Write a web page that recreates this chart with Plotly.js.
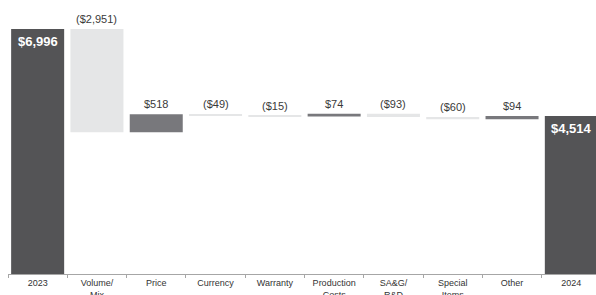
<!DOCTYPE html>
<html>
<head>
<meta charset="utf-8">
<script src="https://cdn.plot.ly/plotly-3.0.1.min.js"></script>
<style>html,body{margin:0;padding:0;background:#fff;}#chart{width:596px;height:295px;}</style>
</head>
<body>
<div id="chart"></div>
<script>
var categories = ["2023", "Volume/<br>Mix", "Price", "Currency", "Warranty", "Production<br>Costs", "SA&G/<br>R&D", "Special<br>Items", "Other", "2024"];
var values = [6996, -2951, 518, -49, -15, 74, -93, -60, 94, 4514];
var measures = ["absolute", "relative", "relative", "relative", "relative", "relative", "relative", "relative", "relative", "total"];
var labels = ["$6,996", "($2,951)", "$518", "($49)", "($15)", "$74", "($93)", "($60)", "$94", "$4,514"];

var COL_TOTAL = '#545456', COL_UP = '#78787c', COL_DOWN = '#e5e6e7';
var FONT = 'Liberation Sans, Arial, sans-serif';
var bases = [], heights = [], colors = [], annotations = [];
var running = 0;
for (var i = 0; i < values.length; i++) {
  var yTop;
  if (measures[i] === "absolute" || measures[i] === "total") {
    if (measures[i] === "absolute") running = values[i];
    bases.push(0); heights.push(running); colors.push(COL_TOTAL); yTop = running;
    annotations.push({x: i, y: yTop, xref: 'x', yref: 'y', text: '<b>' + labels[i] + '</b>', showarrow: false,
      yanchor: 'top', yshift: -3, font: {family: FONT, size: 13, color: '#ffffff'}});
  } else {
    var prev = running; running += values[i];
    var lo = Math.min(prev, running); yTop = Math.max(prev, running);
    bases.push(lo); heights.push(yTop - lo); colors.push(values[i] >= 0 ? COL_UP : COL_DOWN);
    annotations.push({x: i, y: yTop, xref: 'x', yref: 'y', text: labels[i], showarrow: false,
      yanchor: 'bottom', yshift: 2, font: {family: FONT, size: 11, color: '#3a3a3a'}});
  }
}

var trace = {
  type: 'bar',
  x: categories,
  y: heights,
  base: bases,
  marker: {color: colors, line: {width: 0}},
  hoverinfo: 'none'
};

var layout = {
  width: 596, height: 295,
  margin: {l: 8, r: 0, t: 0, b: 21},
  paper_bgcolor: '#ffffff', plot_bgcolor: '#ffffff',
  showlegend: false,
  bargap: 0.106,
  xaxis: {
    type: 'category',
    range: [-0.5, 9.416],
    showgrid: false, zeroline: false,
    showline: true, linecolor: '#a6a6a6', linewidth: 1,
    ticks: 'outside', tickson: 'boundaries', ticklen: 3, tickcolor: '#a6a6a6', tickwidth: 1,
    tickfont: {family: FONT, size: 9, color: '#333333'},
    automargin: false
  },
  yaxis: {
    range: [0, 7824],
    showticklabels: false, ticks: '',
    showgrid: false, zeroline: false, showline: false
  },
  annotations: annotations
};

Plotly.newPlot('chart', [trace], layout, {displayModeBar: false});
</script>
</body>
</html>
